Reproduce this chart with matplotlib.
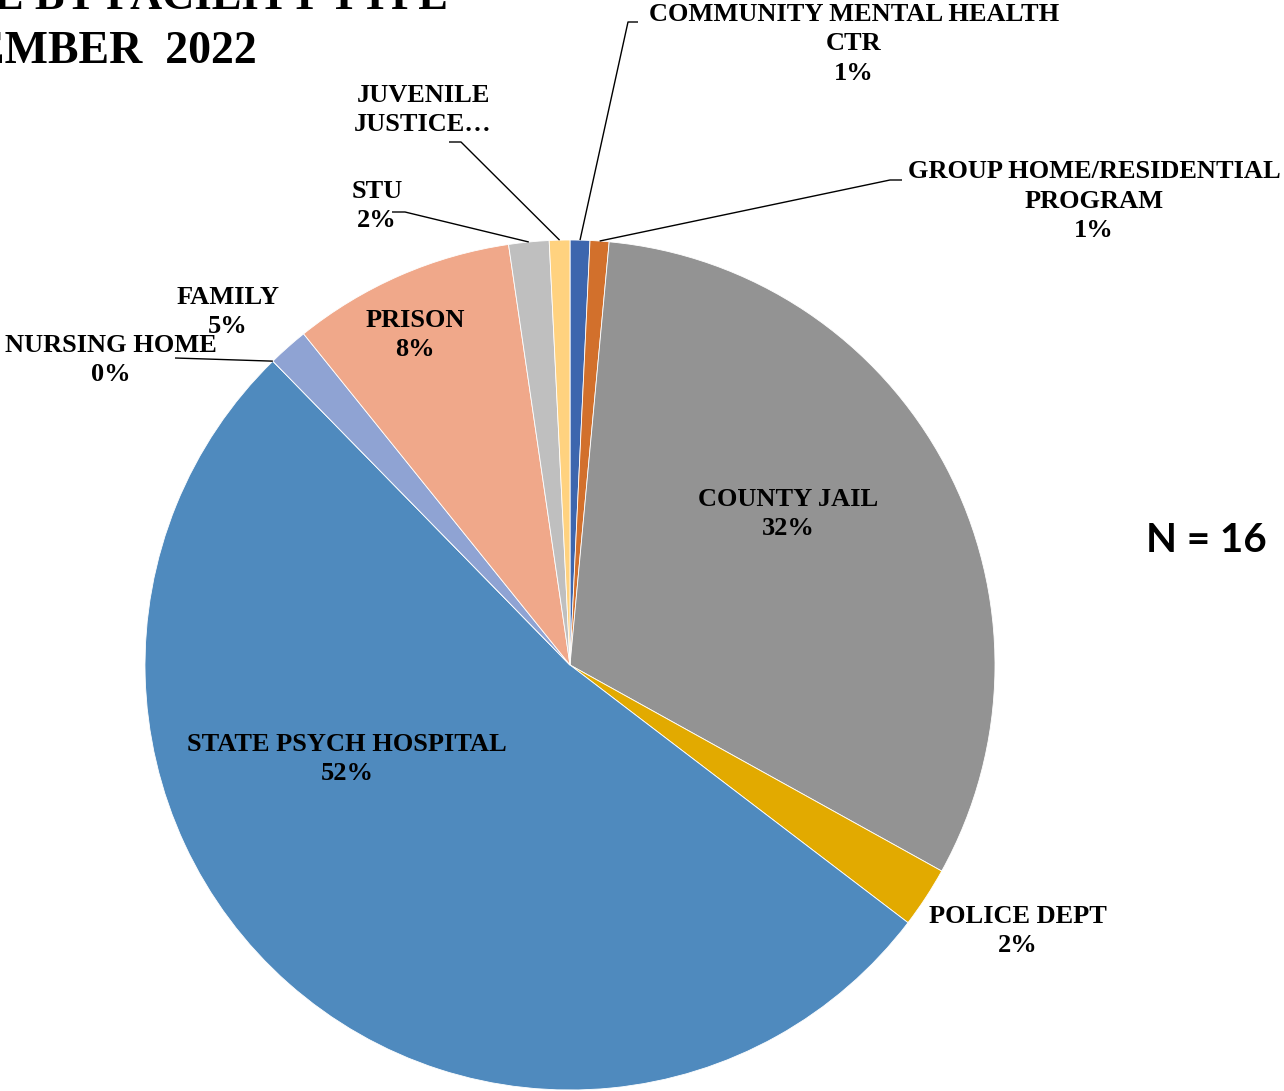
import numpy as np
import matplotlib
matplotlib.use("Agg")
import matplotlib.pyplot as plt

# ---------------- data ----------------
categories = ["COMMUNITY MENTAL HEALTH\nCTR", "GROUP HOME/RESIDENTIAL\nPROGRAM", "COUNTY JAIL",
              "POLICE DEPT", "STATE PSYCH HOSPITAL", "NURSING HOME", "FAMILY", "PRISON",
              "STU", "JUVENILE\nJUSTICE\u2026"]
values = [0.75, 0.72, 31.58, 2.31, 52.30, 0.0, 1.54, 8.47, 1.53, 0.78]
pct_labels = ["1%", "1%", "32%", "2%", "52%", "0%", "5%", "8%", "2%", ""]
colors = ["#3D66AE", "#D2702C", "#939393", "#E2AA00", "#4F8ABE", "#8C9FD2",
          "#8FA3D3", "#F0A88A", "#BFBFBF", "#FFD27F"]
title_line1 = "E BY FACILITY TYPE"
title_line2 = "EMBER  2022"
n_text = "N = 16"

# ---------------- layout (pixel coords, y from top) ----------------
W, H = 1284, 1091
CX, CY, R = 570, 665, 425

def P(x, y):
    return (x, H - y)

# label centre positions (pixel coords) and optional leader-line elbow points
label_pos = {
    0: (854, 44), 1: (1094, 201), 2: (788, 514), 3: (1018, 931), 4: (347, 759),
    5: (111, 360), 6: (228, 312), 7: (415, 335), 8: (377, 206), 9: (423, 110),
}
leaders = {
    0: [(628, 22), (638, 22)],
    1: [(890, 180), (902, 180)],
    5: [(175, 358)],
    8: [(405, 212), (392, 212)],
    9: [(461, 142), (449, 142)],
}

fig = plt.figure(figsize=(W / 100, H / 100), dpi=100)
ax = fig.add_axes([0, 0, 1, 1])
wedges, _ = ax.pie(values, colors=colors, startangle=90, counterclock=False,
                   center=P(CX, CY), radius=R,
                   wedgeprops=dict(edgecolor="white", linewidth=0.6))
ax.set_xlim(0, W)
ax.set_ylim(0, H)
ax.set_aspect("equal")
ax.axis("off")

serif = ["Liberation Serif", "DejaVu Serif"]
for i, (cat, pct) in enumerate(zip(categories, pct_labels)):
    txt = cat if pct == "" else cat + "\n" + pct
    x, y = label_pos[i]
    ax.text(*P(x, y), txt, ha="center", va="center", fontsize=19, fontweight="bold",
            family=serif, linespacing=1.36, color="black")
    if i in leaders:
        w = wedges[i]
        mid = np.deg2rad((w.theta1 + w.theta2) / 2)
        sx = CX + R * np.cos(mid)
        sy = CY - R * np.sin(mid)
        pts = [(sx, sy)] + leaders[i]
        xs = [p[0] for p in pts]
        ys = [H - p[1] for p in pts]
        ax.plot(xs, ys, color="black", lw=1.0, solid_capstyle="butt")

ax.text(*P(448, 9), title_line1, ha="right", va="baseline", fontsize=32,
        fontweight="bold", family=serif)
ax.text(*P(257, 63), title_line2, ha="right", va="baseline", fontsize=33,
        fontweight="bold", family=serif)
ax.text(*P(1206, 541), n_text, ha="center", va="center", fontsize=29,
        fontweight="bold", family=["Lato", "DejaVu Sans"])

fig.savefig("out.png", dpi=100)
